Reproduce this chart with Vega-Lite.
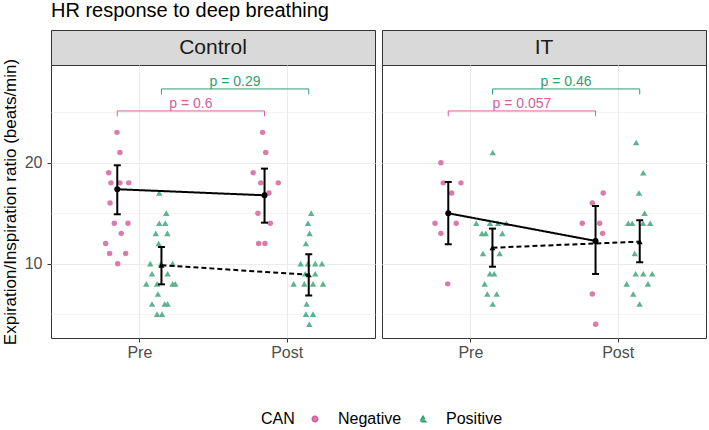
{
"$schema": "https://vega.github.io/schema/vega-lite/v6.json",
"padding": {"left": 0, "top": 0, "right": 2, "bottom": 2},
"background": "white",
"title": {"text": "HR response to deep breathing", "anchor": "start", "frame": "group", "fontSize": 20, "fontWeight": "normal", "color": "#000000", "font": "Liberation Sans", "offset": 9},
"datasets": {
"pts": [
{"panel":"Control","CAN":"Negative","x":0.848,"value":23},{"panel":"Control","CAN":"Negative","x":0.868,"value":21},{"panel":"Control","CAN":"Negative","x":0.792,"value":19},{"panel":"Control","CAN":"Negative","x":0.807,"value":18},{"panel":"Control","CAN":"Negative","x":0.868,"value":18},{"panel":"Control","CAN":"Negative","x":0.928,"value":18},{"panel":"Control","CAN":"Negative","x":0.801,"value":16},{"panel":"Control","CAN":"Negative","x":0.830,"value":14},{"panel":"Control","CAN":"Negative","x":0.923,"value":14},{"panel":"Control","CAN":"Negative","x":0.877,"value":13},{"panel":"Control","CAN":"Negative","x":0.771,"value":12},{"panel":"Control","CAN":"Negative","x":0.798,"value":11},{"panel":"Control","CAN":"Negative","x":0.907,"value":11},{"panel":"Control","CAN":"Negative","x":0.853,"value":10},
{"panel":"Control","CAN":"Positive","x":1.135,"value":17},{"panel":"Control","CAN":"Positive","x":1.183,"value":15},{"panel":"Control","CAN":"Positive","x":1.135,"value":14},{"panel":"Control","CAN":"Positive","x":1.176,"value":14},{"panel":"Control","CAN":"Positive","x":1.111,"value":13},{"panel":"Control","CAN":"Positive","x":1.19,"value":13},{"panel":"Control","CAN":"Positive","x":1.131,"value":12},{"panel":"Control","CAN":"Positive","x":1.074,"value":10},{"panel":"Control","CAN":"Positive","x":1.147,"value":10},{"panel":"Control","CAN":"Positive","x":1.226,"value":10},{"panel":"Control","CAN":"Positive","x":1.086,"value":9},{"panel":"Control","CAN":"Positive","x":1.192,"value":9},{"panel":"Control","CAN":"Positive","x":1.047,"value":8},{"panel":"Control","CAN":"Positive","x":1.12,"value":8},{"panel":"Control","CAN":"Positive","x":1.226,"value":8},{"panel":"Control","CAN":"Positive","x":1.244,"value":8},{"panel":"Control","CAN":"Positive","x":1.126,"value":7},{"panel":"Control","CAN":"Positive","x":1.086,"value":6},{"panel":"Control","CAN":"Positive","x":1.172,"value":6},{"panel":"Control","CAN":"Positive","x":1.192,"value":6},{"panel":"Control","CAN":"Positive","x":1.12,"value":5},{"panel":"Control","CAN":"Positive","x":1.154,"value":5},
{"panel":"Control","CAN":"Negative","x":1.837,"value":23},{"panel":"Control","CAN":"Negative","x":1.858,"value":21},{"panel":"Control","CAN":"Negative","x":1.773,"value":19},{"panel":"Control","CAN":"Negative","x":1.824,"value":18},{"panel":"Control","CAN":"Negative","x":1.943,"value":18},{"panel":"Control","CAN":"Negative","x":1.88,"value":17},{"panel":"Control","CAN":"Negative","x":1.805,"value":15},{"panel":"Control","CAN":"Negative","x":1.889,"value":14},{"panel":"Control","CAN":"Negative","x":1.81,"value":12},{"panel":"Control","CAN":"Negative","x":1.853,"value":12},
{"panel":"Control","CAN":"Positive","x":2.167,"value":15},{"panel":"Control","CAN":"Positive","x":2.145,"value":14},{"panel":"Control","CAN":"Positive","x":2.156,"value":13},{"panel":"Control","CAN":"Positive","x":2.131,"value":12},{"panel":"Control","CAN":"Positive","x":2.095,"value":10},{"panel":"Control","CAN":"Positive","x":2.145,"value":10},{"panel":"Control","CAN":"Positive","x":2.194,"value":10},{"panel":"Control","CAN":"Positive","x":2.24,"value":10},{"panel":"Control","CAN":"Positive","x":2.126,"value":9},{"panel":"Control","CAN":"Positive","x":2.194,"value":9},{"panel":"Control","CAN":"Positive","x":2.048,"value":8},{"panel":"Control","CAN":"Positive","x":2.12,"value":8},{"panel":"Control","CAN":"Positive","x":2.179,"value":8},{"panel":"Control","CAN":"Positive","x":2.247,"value":8},{"panel":"Control","CAN":"Positive","x":2.136,"value":6},{"panel":"Control","CAN":"Positive","x":2.131,"value":5},{"panel":"Control","CAN":"Positive","x":2.179,"value":5},{"panel":"Control","CAN":"Positive","x":2.154,"value":4},
{"panel":"IT","CAN":"Negative","x":0.8,"value":20},{"panel":"IT","CAN":"Negative","x":0.816,"value":18},{"panel":"IT","CAN":"Negative","x":0.936,"value":18},{"panel":"IT","CAN":"Negative","x":0.873,"value":17},{"panel":"IT","CAN":"Negative","x":0.76,"value":14},{"panel":"IT","CAN":"Negative","x":0.904,"value":14},{"panel":"IT","CAN":"Negative","x":0.8,"value":13},{"panel":"IT","CAN":"Negative","x":0.846,"value":8},
{"panel":"IT","CAN":"Positive","x":1.152,"value":21},{"panel":"IT","CAN":"Positive","x":1.04,"value":14},{"panel":"IT","CAN":"Positive","x":1.133,"value":14},{"panel":"IT","CAN":"Positive","x":1.188,"value":14},{"panel":"IT","CAN":"Positive","x":1.244,"value":14},{"panel":"IT","CAN":"Positive","x":1.079,"value":13},{"panel":"IT","CAN":"Positive","x":1.104,"value":13},{"panel":"IT","CAN":"Positive","x":1.217,"value":13},{"panel":"IT","CAN":"Positive","x":1.086,"value":11},{"panel":"IT","CAN":"Positive","x":1.199,"value":11},{"panel":"IT","CAN":"Positive","x":1.133,"value":9},{"panel":"IT","CAN":"Positive","x":1.162,"value":9},{"panel":"IT","CAN":"Positive","x":1.097,"value":8},{"panel":"IT","CAN":"Positive","x":1.115,"value":7},{"panel":"IT","CAN":"Positive","x":1.179,"value":7},{"panel":"IT","CAN":"Positive","x":1.152,"value":6},
{"panel":"IT","CAN":"Negative","x":1.902,"value":17},{"panel":"IT","CAN":"Negative","x":1.828,"value":16},{"panel":"IT","CAN":"Negative","x":1.76,"value":14},{"panel":"IT","CAN":"Negative","x":1.878,"value":14},{"panel":"IT","CAN":"Negative","x":1.898,"value":13},{"panel":"IT","CAN":"Negative","x":1.828,"value":7},{"panel":"IT","CAN":"Negative","x":1.851,"value":4},
{"panel":"IT","CAN":"Positive","x":2.126,"value":22},{"panel":"IT","CAN":"Positive","x":2.174,"value":19},{"panel":"IT","CAN":"Positive","x":2.145,"value":17},{"panel":"IT","CAN":"Positive","x":2.183,"value":15},{"panel":"IT","CAN":"Positive","x":2.072,"value":14},{"panel":"IT","CAN":"Positive","x":2.099,"value":14},{"panel":"IT","CAN":"Positive","x":2.172,"value":14},{"panel":"IT","CAN":"Positive","x":2.221,"value":14},{"panel":"IT","CAN":"Positive","x":2.116,"value":11},{"panel":"IT","CAN":"Positive","x":2.122,"value":9},{"panel":"IT","CAN":"Positive","x":2.174,"value":9},{"panel":"IT","CAN":"Positive","x":2.235,"value":9},{"panel":"IT","CAN":"Positive","x":2.061,"value":8},{"panel":"IT","CAN":"Positive","x":2.206,"value":8},{"panel":"IT","CAN":"Positive","x":2.106,"value":7},{"panel":"IT","CAN":"Positive","x":2.149,"value":6}
],
"summ": [
{"panel":"Control","CAN":"Negative","time":"Pre","x":0.85,"mean":17.37,"lo":14.89,"hi":19.74},
{"panel":"Control","CAN":"Negative","time":"Post","x":1.85,"mean":16.77,"lo":14.06,"hi":19.41},
{"panel":"Control","CAN":"Positive","time":"Pre","x":1.15,"mean":9.85,"lo":7.95,"hi":11.65},
{"panel":"Control","CAN":"Positive","time":"Post","x":2.15,"mean":8.9,"lo":6.85,"hi":10.93},
{"panel":"IT","CAN":"Negative","time":"Pre","x":0.85,"mean":14.99,"lo":11.92,"hi":18.09},
{"panel":"IT","CAN":"Negative","time":"Post","x":1.85,"mean":12.25,"lo":8.98,"hi":15.71},
{"panel":"IT","CAN":"Positive","time":"Pre","x":1.15,"mean":11.58,"lo":9.7,"hi":13.47},
{"panel":"IT","CAN":"Positive","time":"Post","x":2.15,"mean":12.18,"lo":10.14,"hi":14.3}
],
"brk": [
{"panel":"Control","CAN":"Negative","x1":0.85,"x2":1.85,"xm":1.35,"y":25.12,"yt":24.6,"label":"p = 0.6"},
{"panel":"Control","CAN":"Positive","x1":1.15,"x2":2.15,"xm":1.65,"y":27.3,"yt":26.75,"label":"p = 0.29"},
{"panel":"IT","CAN":"Negative","x1":0.85,"x2":1.85,"xm":1.35,"y":25.12,"yt":24.6,"label":"p = 0.057"},
{"panel":"IT","CAN":"Positive","x1":1.15,"x2":2.15,"xm":1.65,"y":27.3,"yt":26.75,"label":"p = 0.46"}
]
},
"spacing": 5,
"hconcat": [
{"spacing": 0, "bounds": "flush", "vconcat": [
 {"width": 324, "height": 35, "data": {"values": [{"strip": "Control"}]}, "mark": {"type": "text", "fontSize": 21, "color": "#1A1A1A", "font": "Liberation Sans"}, "encoding": {"text": {"field": "strip", "type": "nominal"}}, "view": {"fill": "#D9D9D9", "stroke": "#333333"}},
 {"width": 324, "height": 273,
  "layer": [
   {"data": {"name": "pts"}, "transform": [{"filter": "datum.panel === 'Control'"}],
    "mark": {"type": "point", "filled": true, "opacity": 1},
    "encoding": {
     "x": {"field": "x", "type": "quantitative", "scale": {"domain": [0.4, 2.6], "nice": false, "zero": false}, "axis": {"values": [1, 2], "labelExpr": "datum.value == 1 ? 'Pre' : 'Post'", "title": null, "grid": true}},
     "y": {"field": "value", "type": "quantitative", "scale": {"domain": [2.64, 29.67], "nice": false, "zero": false}, "axis": {"values": [5, 10, 15, 20, 25], "labelExpr": "datum.value % 10 == 0 ? datum.label : ''", "tickOpacity": {"condition": {"test": "datum.value % 10 == 0", "value": 1}, "value": 0}, "gridWidth": {"condition": {"test": "datum.value % 10 == 0", "value": 1.1}, "value": 0.6}, "title": "Expiration/Inspiration ratio (beats/min)"}},
     "color": {"field": "CAN", "type": "nominal", "scale": {"domain": ["Negative", "Positive"], "range": ["#DB7BAA", "#5DB38F"]},
      "legend": {"title": "CAN", "orient": "none", "legendX": 210, "legendY": 381, "direction": "horizontal", "titleOrient": "left", "titleFontSize": 16, "titleFontWeight": "normal", "titleColor": "#000000", "labelFontSize": 16, "labelColor": "#000000", "titlePadding": 12, "labelOffset": 15, "columnPadding": 13}},
     "shape": {"field": "CAN", "type": "nominal", "scale": {"domain": ["Negative", "Positive"], "range": ["circle", "triangle-up"]}},
     "size": {"field": "CAN", "type": "ordinal", "scale": {"domain": ["Negative", "Positive"], "range": [30, 42]}}
    }},
   {"data": {"name": "summ"}, "transform": [{"filter": "datum.panel === 'Control'"}],
    "mark": {"type": "line", "color": "#000000", "strokeWidth": 2},
    "encoding": {"x": {"field": "x", "type": "quantitative"}, "y": {"field": "mean", "type": "quantitative"}, "detail": {"field": "CAN"},
     "strokeDash": {"field": "CAN", "type": "nominal", "scale": {"domain": ["Negative", "Positive"], "range": [[1, 0], [5, 3]]}, "legend": null}}},
   {"data": {"name": "summ"}, "transform": [{"filter": "datum.panel === 'Control'"}],
    "mark": {"type": "rule", "color": "#000000", "strokeWidth": 2},
    "encoding": {"x": {"field": "x", "type": "quantitative"}, "y": {"field": "lo", "type": "quantitative"}, "y2": {"field": "hi"}}},
   {"data": {"name": "summ"}, "transform": [{"filter": "datum.panel === 'Control'"}],
    "mark": {"type": "tick", "orient": "horizontal", "color": "#000000", "size": 7, "thickness": 2, "opacity": 1},
    "encoding": {"x": {"field": "x", "type": "quantitative"}, "y": {"field": "lo", "type": "quantitative"}}},
   {"data": {"name": "summ"}, "transform": [{"filter": "datum.panel === 'Control'"}],
    "mark": {"type": "tick", "orient": "horizontal", "color": "#000000", "size": 7, "thickness": 2, "opacity": 1},
    "encoding": {"x": {"field": "x", "type": "quantitative"}, "y": {"field": "hi", "type": "quantitative"}}},
   {"data": {"name": "summ"}, "transform": [{"filter": "datum.panel === 'Control'"}],
    "mark": {"type": "point", "filled": true, "color": "#000000", "opacity": 1, "size": 36},
    "encoding": {"x": {"field": "x", "type": "quantitative"}, "y": {"field": "mean", "type": "quantitative"}, "shape": {"field": "CAN", "type": "nominal"}}},
   {"data": {"name": "brk"}, "transform": [{"filter": "datum.panel === 'Control'"}],
    "mark": {"type": "rule", "strokeWidth": 1},
    "encoding": {"x": {"field": "x1", "type": "quantitative"}, "x2": {"field": "x2"}, "y": {"field": "y", "type": "quantitative"},
     "stroke": {"field": "CAN", "type": "nominal", "scale": {"domain": ["Negative", "Positive"], "range": ["#D6609A", "#2E9E72"]}, "legend": null}}},
   {"data": {"name": "brk"}, "transform": [{"filter": "datum.panel === 'Control'"}],
    "mark": {"type": "rule", "strokeWidth": 1},
    "encoding": {"x": {"field": "x1", "type": "quantitative"}, "y": {"field": "y", "type": "quantitative"}, "y2": {"field": "yt"},
     "stroke": {"field": "CAN", "type": "nominal", "legend": null}}},
   {"data": {"name": "brk"}, "transform": [{"filter": "datum.panel === 'Control'"}],
    "mark": {"type": "rule", "strokeWidth": 1},
    "encoding": {"x": {"field": "x2", "type": "quantitative"}, "y": {"field": "y", "type": "quantitative"}, "y2": {"field": "yt"},
     "stroke": {"field": "CAN", "type": "nominal", "legend": null}}},
   {"data": {"name": "brk"}, "transform": [{"filter": "datum.panel === 'Control'"}],
    "mark": {"type": "text", "fontSize": 14, "baseline": "alphabetic", "dy": -3, "font": "Liberation Sans"},
    "encoding": {"x": {"field": "xm", "type": "quantitative"}, "y": {"field": "y", "type": "quantitative"}, "text": {"field": "label"},
     "fill": {"field": "CAN", "type": "nominal", "scale": {"domain": ["Negative", "Positive"], "range": ["#D6609A", "#2E9E72"]}, "legend": null}}}
  ]}
]},
{"spacing": 0, "bounds": "flush", "vconcat": [
 {"width": 324, "height": 35, "data": {"values": [{"strip": "IT"}]}, "mark": {"type": "text", "fontSize": 21, "color": "#1A1A1A", "font": "Liberation Sans"}, "encoding": {"text": {"field": "strip", "type": "nominal"}}, "view": {"fill": "#D9D9D9", "stroke": "#333333"}},
 {"width": 324, "height": 273,
  "layer": [
   {"data": {"name": "pts"}, "transform": [{"filter": "datum.panel === 'IT'"}],
    "mark": {"type": "point", "filled": true, "opacity": 1},
    "encoding": {
     "x": {"field": "x", "type": "quantitative", "scale": {"domain": [0.4, 2.6], "nice": false, "zero": false}, "axis": {"values": [1, 2], "labelExpr": "datum.value == 1 ? 'Pre' : 'Post'", "title": null, "grid": true}},
     "y": {"field": "value", "type": "quantitative", "scale": {"domain": [2.64, 29.67], "nice": false, "zero": false}, "axis": {"values": [5, 10, 15, 20, 25], "labels": false, "ticks": false, "gridWidth": {"condition": {"test": "datum.value % 10 == 0", "value": 1.1}, "value": 0.6}, "title": null}},
     "color": {"field": "CAN", "type": "nominal", "scale": {"domain": ["Negative", "Positive"], "range": ["#DB7BAA", "#5DB38F"]}, "legend": null},
     "shape": {"field": "CAN", "type": "nominal", "scale": {"domain": ["Negative", "Positive"], "range": ["circle", "triangle-up"]}, "legend": null},
     "size": {"field": "CAN", "type": "ordinal", "scale": {"domain": ["Negative", "Positive"], "range": [30, 42]}, "legend": null}
    }},
   {"data": {"name": "summ"}, "transform": [{"filter": "datum.panel === 'IT'"}],
    "mark": {"type": "line", "color": "#000000", "strokeWidth": 2},
    "encoding": {"x": {"field": "x", "type": "quantitative"}, "y": {"field": "mean", "type": "quantitative"}, "detail": {"field": "CAN"},
     "strokeDash": {"field": "CAN", "type": "nominal", "scale": {"domain": ["Negative", "Positive"], "range": [[1, 0], [5, 3]]}, "legend": null}}},
   {"data": {"name": "summ"}, "transform": [{"filter": "datum.panel === 'IT'"}],
    "mark": {"type": "rule", "color": "#000000", "strokeWidth": 2},
    "encoding": {"x": {"field": "x", "type": "quantitative"}, "y": {"field": "lo", "type": "quantitative"}, "y2": {"field": "hi"}}},
   {"data": {"name": "summ"}, "transform": [{"filter": "datum.panel === 'IT'"}],
    "mark": {"type": "tick", "orient": "horizontal", "color": "#000000", "size": 7, "thickness": 2, "opacity": 1},
    "encoding": {"x": {"field": "x", "type": "quantitative"}, "y": {"field": "lo", "type": "quantitative"}}},
   {"data": {"name": "summ"}, "transform": [{"filter": "datum.panel === 'IT'"}],
    "mark": {"type": "tick", "orient": "horizontal", "color": "#000000", "size": 7, "thickness": 2, "opacity": 1},
    "encoding": {"x": {"field": "x", "type": "quantitative"}, "y": {"field": "hi", "type": "quantitative"}}},
   {"data": {"name": "summ"}, "transform": [{"filter": "datum.panel === 'IT'"}],
    "mark": {"type": "point", "filled": true, "color": "#000000", "opacity": 1, "size": 36},
    "encoding": {"x": {"field": "x", "type": "quantitative"}, "y": {"field": "mean", "type": "quantitative"}, "shape": {"field": "CAN", "type": "nominal", "legend": null}}},
   {"data": {"name": "brk"}, "transform": [{"filter": "datum.panel === 'IT'"}],
    "mark": {"type": "rule", "strokeWidth": 1},
    "encoding": {"x": {"field": "x1", "type": "quantitative"}, "x2": {"field": "x2"}, "y": {"field": "y", "type": "quantitative"},
     "stroke": {"field": "CAN", "type": "nominal", "scale": {"domain": ["Negative", "Positive"], "range": ["#D6609A", "#2E9E72"]}, "legend": null}}},
   {"data": {"name": "brk"}, "transform": [{"filter": "datum.panel === 'IT'"}],
    "mark": {"type": "rule", "strokeWidth": 1},
    "encoding": {"x": {"field": "x1", "type": "quantitative"}, "y": {"field": "y", "type": "quantitative"}, "y2": {"field": "yt"},
     "stroke": {"field": "CAN", "type": "nominal", "legend": null}}},
   {"data": {"name": "brk"}, "transform": [{"filter": "datum.panel === 'IT'"}],
    "mark": {"type": "rule", "strokeWidth": 1},
    "encoding": {"x": {"field": "x2", "type": "quantitative"}, "y": {"field": "y", "type": "quantitative"}, "y2": {"field": "yt"},
     "stroke": {"field": "CAN", "type": "nominal", "legend": null}}},
   {"data": {"name": "brk"}, "transform": [{"filter": "datum.panel === 'IT'"}],
    "mark": {"type": "text", "fontSize": 14, "baseline": "alphabetic", "dy": -3, "font": "Liberation Sans"},
    "encoding": {"x": {"field": "xm", "type": "quantitative"}, "y": {"field": "y", "type": "quantitative"}, "text": {"field": "label"},
     "fill": {"field": "CAN", "type": "nominal", "scale": {"domain": ["Negative", "Positive"], "range": ["#D6609A", "#2E9E72"]}, "legend": null}}}
  ]}
]}
],
"config": {
 "font": "Liberation Sans",
 "view": {"stroke": "#333333", "strokeWidth": 1},
 "axis": {"domain": false, "gridColor": "#EBEBEB", "tickColor": "#333333", "tickSize": 4, "labelFontSize": 16, "labelColor": "#4D4D4D", "labelFont": "Liberation Sans", "titleFont": "Liberation Sans", "titleFontSize": 17, "titleFontWeight": "normal", "titleColor": "#000000"},
 "axisX": {"labelPadding": 2},
 "axisY": {"labelPadding": 5, "titlePadding": 5}
}
}
